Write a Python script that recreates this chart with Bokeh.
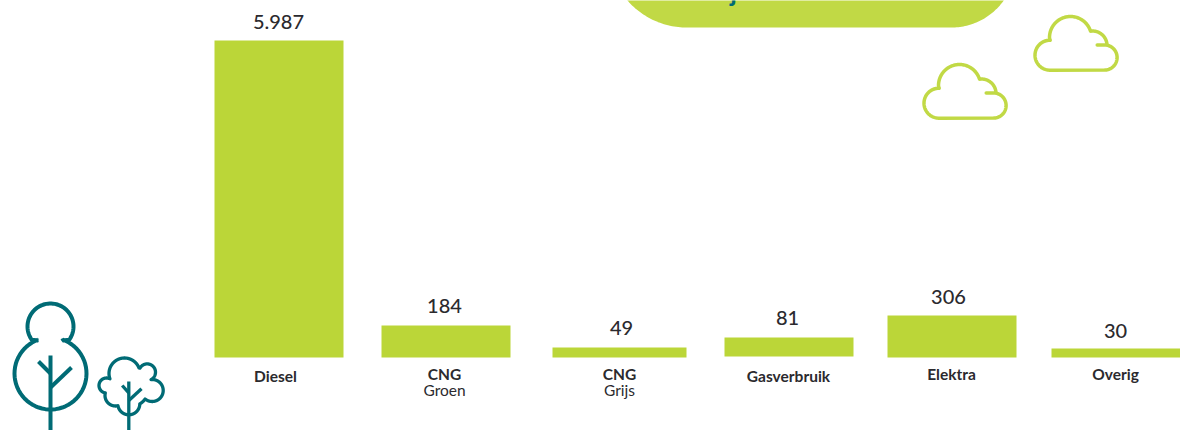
import numpy as np
from bokeh.core.properties import value
from bokeh.embed import file_html
from bokeh.models import ColumnDataSource, Range1d
from bokeh.plotting import figure
from bokeh.resources import INLINE

# ---- chart content -------------------------------------------------------
categories = ["Diesel", "CNG", "CNG", "Gasverbruik", "Elektra", "Overig"]
subcategories = ["", "Groen", "Grijs", "", "", ""]
value_labels = ["5.987", "184", "49", "81", "306", "30"]
# The infographic is not drawn to a common scale: lengths are read as drawn.
drawn_lengths = [317, 32, 10, 19, 42, 9]

# ---- layout (reference pixels) -------------------------------------------
bar_left = [214, 381, 552, 724, 887, 1051]
bar_right = [343, 510, 686, 853, 1016, 1180]
bar_floor = [357, 357, 357, 356, 357, 357]
value_x = [278, 444, 621, 787, 948, 1115]
value_y = [21, 305, 327, 317, 296, 330]
label_x = [275, 444, 619, 788, 951, 1115]
label_y = [375, 373, 373, 375, 373, 373]
sub_y = 389

BAR = "#BBD638"
PILL = "#C1D945"
TEAL = "#006B75"
INK = "#2B2A2E"
FONT = "Lato"

W, H = 1180, 430
p = figure(width=W, height=H, output_backend="svg", toolbar_location=None,
           x_range=Range1d(0, W), y_range=Range1d(H, 0),
           min_border=0, outline_line_color=None)
p.xaxis.visible = False
p.yaxis.visible = False
p.grid.visible = False


def arc(cx, cy, r, a0, a1, n=60):
    t = np.radians(np.linspace(a0, a1, n))
    return cx + r * np.cos(t), cy + r * np.sin(t)


# pill at the top
lx, ly = arc(686, 27 - 78, 78, 180, 90)
rx, ry = arc(951, 27 - 64, 64, 90, 0)
p.patch(np.r_[lx, rx], np.r_[ly, ry], fill_color=PILL, line_color=None)
p.text([733], [-9], text=["j"], text_color=TEAL, text_align="center",
       text_baseline="alphabetic", text_font=value(FONT),
       text_font_style="bold", text_font_size="26px")


# clouds
def cloud(ox, oy):
    style = dict(line_color=PILL, line_width=3.5, line_cap="round")
    ax, ay = arc(16.5, 39.7, 15, 270, 90)
    bx, by = arc(71, 42, 12.6, 90, -90)
    xs = np.r_[ax, bx, 63.7]
    ys = np.r_[ay, by, 29.4]
    p.line(xs + ox, ys + oy, **style)
    dx, dy = arc(37, 22, 21, 180, 342)
    p.line(np.r_[16.5, dx] + ox, np.r_[24.7, dy] + oy, **style)
    ex, ey = arc(59, 30, 14.5, -95, -5)
    p.line(ex + ox, ey + oy, **style)


cloud(922, 63)
cloud(1033, 15)

# big tree
ux, uy = arc(50, 326, 23, 145, 395)
wx, wy = arc(50, 373, 36, -70, 250)
p.line(np.r_[38, ux, 62, wx], np.r_[340, uy, 340, wy], line_color=TEAL, line_width=4)
for seg in [((50, 50), (355, 430)), ((38, 50), (361, 373)), ((71, 50), (367, 387))]:
    p.line(*seg, line_color=TEAL, line_width=4)

# small tree: outline of overlapping lobes
lobes = [(124, 373, 15.5), (146.7, 371.7, 8.3), (151.7, 390, 11),
         (128.3, 403.3, 11), (115, 395, 10.5), (106, 385, 7.5),
         (136, 376, 9), (130, 388, 18)]
c = (130, 388)
ang = np.radians(np.linspace(0, 360, 1441))
dist = np.zeros_like(ang)
for lxc, lyc, lr in lobes:
    ox, oy = lxc - c[0], lyc - c[1]
    b = ox * np.cos(ang) + oy * np.sin(ang)
    disc = b ** 2 - (ox ** 2 + oy ** 2 - lr ** 2)
    dist = np.maximum(dist, np.where(disc >= 0, b + np.sqrt(np.maximum(disc, 0)), 0))
p.line(c[0] + dist * np.cos(ang), c[1] + dist * np.sin(ang),
       line_color=TEAL, line_width=3.3, line_join="round")
for seg in [((128.3, 128.3), (381, 430)), ((121.7, 128.3), (385, 392.3)),
            ((141, 128.3), (388.3, 400))]:
    p.line(*seg, line_color=TEAL, line_width=3.3)

# bars
floor = np.array(bar_floor)
src = ColumnDataSource(dict(left=bar_left, right=bar_right, bottom=floor,
                            top=floor - np.array(drawn_lengths)))
p.quad(left="left", right="right", bottom="bottom", top="top", source=src,
       fill_color=BAR, line_color=None)

# texts
p.text(value_x, value_y, text=value_labels, text_color=INK, text_align="center",
       text_baseline="middle", text_font=value("Lato Medium"), text_font_size="20px")
p.text(label_x, label_y, text=categories, text_color=INK, text_align="center",
       text_baseline="middle", text_font=value(FONT), text_font_size="15.5px",
       text_font_style="bold")
sx = [x for x, s in zip(label_x, subcategories) if s]
st = [s for s in subcategories if s]
p.text(sx, [sub_y] * len(sx), text=st, text_color=INK, text_align="center",
       text_baseline="middle", text_font=value(FONT), text_font_size="15.5px")

open("out.html", "w").write(file_html(p, INLINE))
